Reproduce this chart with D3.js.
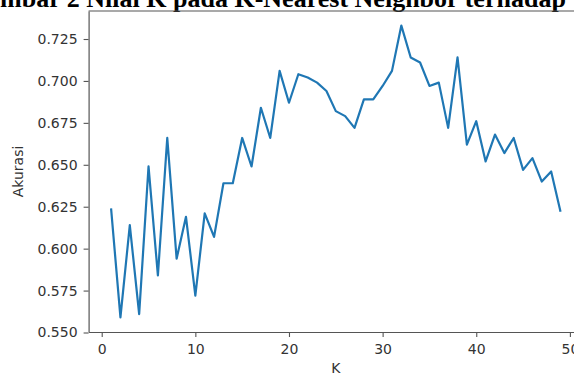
<!DOCTYPE html>
<html>
<head>
<meta charset="utf-8">
<script src="https://cdn.jsdelivr.net/npm/d3@7"></script>
<style>
  html, body { margin: 0; padding: 0; background: #fff; overflow: hidden; }
  svg { display: block; }
</style>
</head>
<body>
<svg id="chart" width="574" height="376"></svg>
<script>
// ---- data ----
const kValues = [1,2,3,4,5,6,7,8,9,10,11,12,13,14,15,16,17,18,19,20,21,22,23,24,25,26,27,28,29,30,31,32,33,34,35,36,37,38,39,40,41,42,43,44,45,46,47,48,49];
const accuracy = [0.624,0.559,0.614,0.561,0.649,0.584,0.666,0.594,0.619,0.572,0.621,0.607,0.639,0.639,0.666,0.649,0.684,0.666,0.706,0.687,0.704,0.702,0.699,0.694,0.682,0.679,0.672,0.689,0.689,0.697,0.706,0.733,0.714,0.711,0.697,0.699,0.672,0.714,0.662,0.676,0.652,0.668,0.657,0.666,0.647,0.654,0.640,0.646,0.622];
const xTicks = [0,10,20,30,40,50];
const yTicks = [0.550,0.575,0.600,0.625,0.650,0.675,0.700,0.725];
const titleText = "mbar 2 Nilai K pada K-Nearest Neighbor terhadap";
const xLabel = "K";
const yLabel = "Akurasi";

// ---- layout ----
const svg = d3.select("#chart");
const padL = 88.6, padR = 583, padT = 11, padB = 332;
const x = d3.scaleLinear().domain([-1.4, 51.4]).range([padL, padR]);
const y = d3.scaleLinear().domain([0.5503, 0.7417]).range([padB, padT]);
const textColor = "#333";
const axisColor = "#555";
const tickFont = "DejaVu Sans";
const tickSize = 14;

// title (cropped figure caption)
const title = svg.append("text")
  .attr("x", 0).attr("y", 7)
  .attr("font-family", "'Liberation Serif', 'Times New Roman', serif")
  .attr("font-weight", "bold")
  .attr("font-size", 16)
  .attr("fill", "#000")
  .text(titleText);
const tw = title.node().getComputedTextLength();
title.attr("font-size", 16 * 566 / tw);

// line
const line = d3.line().x((d, i) => x(kValues[i])).y(d => y(d));
svg.append("path")
  .datum(accuracy)
  .attr("d", line)
  .attr("fill", "none")
  .attr("stroke", "#1f77b4")
  .attr("stroke-width", 2.2)
  .attr("stroke-linejoin", "round")
  .attr("stroke-linecap", "butt");

// axes
const xAxis = svg.append("g")
  .attr("transform", `translate(0,${padB})`)
  .call(d3.axisBottom(x).tickValues(xTicks).tickFormat(d3.format("d")).tickSize(5).tickPadding(7).tickSizeOuter(0));
const yAxis = svg.append("g")
  .attr("transform", `translate(${padL},0)`)
  .call(d3.axisLeft(y).tickValues(yTicks).tickFormat(d3.format(".3f")).tickSize(5).tickPadding(6).tickSizeOuter(0));

[xAxis, yAxis].forEach(g => {
  g.select(".domain").attr("stroke", axisColor).attr("stroke-width", 1.2);
  g.selectAll(".tick line").attr("stroke", axisColor).attr("stroke-width", 1.1);
  g.selectAll(".tick text")
    .attr("fill", textColor)
    .attr("font-family", tickFont)
    .attr("font-size", tickSize);
});

// top and right spines
svg.append("line")
  .attr("x1", padL).attr("x2", padR).attr("y1", padT).attr("y2", padT)
  .attr("stroke", axisColor).attr("stroke-width", 1.2);
svg.append("line")
  .attr("x1", padR).attr("x2", padR).attr("y1", padT).attr("y2", padB)
  .attr("stroke", axisColor).attr("stroke-width", 1.2);

// axis labels
svg.append("text")
  .attr("x", x(25)).attr("y", 373)
  .attr("text-anchor", "middle")
  .attr("font-family", tickFont).attr("font-size", tickSize)
  .attr("fill", textColor)
  .text(xLabel);
svg.append("text")
  .attr("transform", `translate(23,${(padT + padB) / 2}) rotate(-90)`)
  .attr("text-anchor", "middle")
  .attr("font-family", tickFont).attr("font-size", tickSize)
  .attr("fill", textColor)
  .text(yLabel);
</script>
</body>
</html>
